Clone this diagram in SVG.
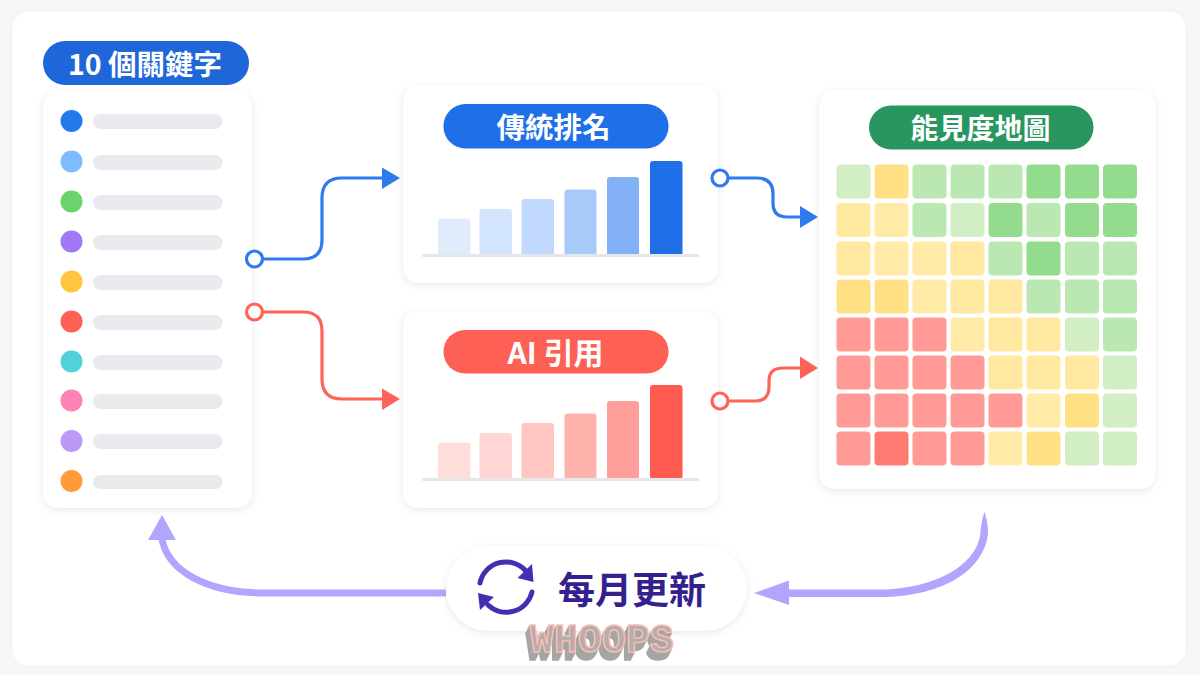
<svg xmlns="http://www.w3.org/2000/svg" width="1200" height="675" viewBox="0 0 1200 675">
<style>
text{font-family:"Noto Sans CJK TC","Noto Sans",sans-serif;font-weight:700;text-anchor:middle}
.card{fill:#fff;filter:url(#sh)}
.ln{fill:#e9e9ee}
.axis{fill:#e6e6eb}
.g1{fill:#d2eec4}.g2{fill:#bbe8b2}.g3{fill:#93dc8e}
.y1{fill:#ffeaa8}.y2{fill:#ffe9a0}.y3{fill:#ffe084}
.r1{fill:#ff9a96}.r2{fill:#ff7b72}
.blue{fill:none;stroke:#2f7bee;stroke-width:3.2}
.red{fill:none;stroke:#ff6257;stroke-width:3.2}
.ringb{fill:#fff;stroke:#2f7bee;stroke-width:3.2}
.ringr{fill:#fff;stroke:#ff6257;stroke-width:3.2}
.loop{fill:none;stroke:#b1a6fd;stroke-width:7}
.sync{fill:none;stroke:#432fb4;stroke-width:5;stroke-linecap:round}
</style>
<defs>
<filter id="sh" x="-10%" y="-10%" width="120%" height="120%"><feDropShadow dx="0" dy="2" stdDeviation="3.500" flood-color="#8a8aa0" flood-opacity="0.2"/></filter>
<filter id="sh2" x="-3%" y="-3%" width="106%" height="106%"><feDropShadow dx="0" dy="0" stdDeviation="3" flood-color="#8a8aa0" flood-opacity="0.1"/></filter>
<filter id="extrude" x="-10%" y="-20%" width="120%" height="150%" color-interpolation-filters="sRGB">
<feOffset in="SourceAlpha" dx="-1" dy="2" result="a"/>
<feOffset in="SourceAlpha" dx="-2" dy="4" result="b"/>
<feOffset in="SourceAlpha" dx="-3" dy="6" result="c"/>
<feOffset in="SourceAlpha" dx="-4" dy="8" result="d"/>
<feMerge result="m"><feMergeNode in="a"/><feMergeNode in="b"/><feMergeNode in="c"/><feMergeNode in="d"/></feMerge>
<feFlood flood-color="#a5a5a5"/><feComposite in2="m" operator="in" result="s"/>
<feMerge><feMergeNode in="s"/><feMergeNode in="SourceGraphic"/></feMerge>
</filter>
</defs>
<rect width="1200" height="675" fill="#f8f8f9"/>
<rect x="12.500" y="11.500" width="1173" height="654" rx="16" fill="#fff" filter="url(#sh2)"/>

<g id="keywords-label">
<rect x="43" y="41" width="206" height="44" rx="22" fill="#1f66d8"/>
<text x="145" y="74.500" font-size="28.500" fill="#fff">10 個關鍵字</text>
</g>

<g id="keywords-list">
<rect class="card" x="43" y="91" width="209" height="417" rx="15"/>
<circle cx="71.500" cy="121" r="11" fill="#2279ee"/><rect class="ln" x="93" y="114" width="129.500" height="15" rx="7.500"/>
<circle cx="71.500" cy="161.500" r="11" fill="#7cbcff"/><rect class="ln" x="93" y="155" width="129.500" height="15" rx="7.500"/>
<circle cx="71.500" cy="201.500" r="11" fill="#6bd26d"/><rect class="ln" x="93" y="195" width="129.500" height="15" rx="7.500"/>
<circle cx="71.500" cy="241.500" r="11" fill="#a278f5"/><rect class="ln" x="93" y="235" width="129.500" height="15" rx="7.500"/>
<circle cx="71.500" cy="281.500" r="11" fill="#ffc53d"/><rect class="ln" x="93" y="275" width="129.500" height="15" rx="7.500"/>
<circle cx="71.500" cy="321.500" r="11" fill="#ff5f55"/><rect class="ln" x="93" y="315" width="129.500" height="15" rx="7.500"/>
<circle cx="71.500" cy="361.500" r="11" fill="#50d2dc"/><rect class="ln" x="93" y="355" width="129.500" height="15" rx="7.500"/>
<circle cx="71.500" cy="400.500" r="11" fill="#ff82b5"/><rect class="ln" x="93" y="394" width="129.500" height="15" rx="7.500"/>
<circle cx="71.500" cy="441" r="11" fill="#bb99f7"/><rect class="ln" x="93" y="434" width="129.500" height="15" rx="7.500"/>
<circle cx="71.500" cy="481" r="11" fill="#ff9b38"/><rect class="ln" x="93" y="475" width="129.500" height="14" rx="7"/>
</g>

<g id="traditional-ranking">
<rect class="card" x="403" y="85" width="315" height="198" rx="15"/>
<rect x="443.500" y="104" width="225" height="44.500" rx="22" fill="#1f70e8"/>
<text x="553.500" y="138" font-size="28.500" fill="#fff">傳統排名</text>
<rect x="438" y="218.500" width="32.500" height="38" rx="3" fill="#e0ebfb"/>
<rect x="479.500" y="209" width="32.500" height="47.500" rx="3" fill="#d3e4fe"/>
<rect x="521.500" y="199" width="32.500" height="57.500" rx="3" fill="#c1d9fe"/>
<rect x="564.500" y="189.500" width="32" height="67" rx="3" fill="#a8caf9"/>
<rect x="607" y="177" width="32" height="79.500" rx="3" fill="#83b1f6"/>
<rect x="650" y="161" width="32.500" height="95.500" rx="3" fill="#1f70e8"/>
<rect x="422" y="254" width="277" height="3" rx="1.500" class="axis"/>
</g>

<g id="ai-citation">
<rect class="card" x="403" y="311" width="315" height="197" rx="15"/>
<rect x="443.500" y="330" width="225" height="43.500" rx="21.500" fill="#ff6055"/>
<text x="555.500" y="363.500" font-size="30" fill="#fff">AI 引用</text>
<rect x="438" y="442.500" width="32.500" height="37" rx="3" fill="#ffdeda"/>
<rect x="479.500" y="433" width="32.500" height="46.500" rx="3" fill="#ffd6d3"/>
<rect x="521.500" y="423" width="32.500" height="56.500" rx="3" fill="#ffc6c2"/>
<rect x="564.500" y="413.500" width="32" height="66" rx="3" fill="#ffb1ac"/>
<rect x="607" y="401" width="32" height="78.500" rx="3" fill="#ff9f99"/>
<rect x="650" y="385" width="32.500" height="94.500" rx="3" fill="#ff5b50"/>
<rect x="422" y="478" width="277" height="3" rx="1.500" class="axis"/>
</g>

<g id="visibility-map">
<rect class="card" x="819" y="90" width="336.500" height="399" rx="15"/>
<rect x="869" y="105.500" width="224.500" height="44" rx="22" fill="#29955f"/>
<text x="980.500" y="139" font-size="28" fill="#fff">能見度地圖</text>
<rect class="g1" x="836.500" y="164.500" width="34" height="34" rx="4"/><rect class="y3" x="874.500" y="164.500" width="34" height="34" rx="4"/><rect class="g2" x="912.500" y="164.500" width="34" height="34" rx="4"/><rect class="g2" x="950.500" y="164.500" width="34" height="34" rx="4"/><rect class="g2" x="988.500" y="164.500" width="34" height="34" rx="4"/><rect class="g3" x="1026.500" y="164.500" width="34" height="34" rx="4"/><rect class="g3" x="1065" y="164.500" width="34" height="34" rx="4"/><rect class="g3" x="1103" y="164.500" width="34" height="34" rx="4"/>
<rect class="y2" x="836.500" y="203" width="34" height="34" rx="4"/><rect class="y1" x="874.500" y="203" width="34" height="34" rx="4"/><rect class="g2" x="912.500" y="203" width="34" height="34" rx="4"/><rect class="g1" x="950.500" y="203" width="34" height="34" rx="4"/><rect class="g3" x="988.500" y="203" width="34" height="34" rx="4"/><rect class="g2" x="1026.500" y="203" width="34" height="34" rx="4"/><rect class="g3" x="1065" y="203" width="34" height="34" rx="4"/><rect class="g3" x="1103" y="203" width="34" height="34" rx="4"/>
<rect class="y2" x="836.500" y="241.500" width="34" height="34" rx="4"/><rect class="y1" x="874.500" y="241.500" width="34" height="34" rx="4"/><rect class="y1" x="912.500" y="241.500" width="34" height="34" rx="4"/><rect class="y2" x="950.500" y="241.500" width="34" height="34" rx="4"/><rect class="g2" x="988.500" y="241.500" width="34" height="34" rx="4"/><rect class="g3" x="1026.500" y="241.500" width="34" height="34" rx="4"/><rect class="g2" x="1065" y="241.500" width="34" height="34" rx="4"/><rect class="g2" x="1103" y="241.500" width="34" height="34" rx="4"/>
<rect class="y3" x="836.500" y="279.500" width="34" height="34" rx="4"/><rect class="y3" x="874.500" y="279.500" width="34" height="34" rx="4"/><rect class="y1" x="912.500" y="279.500" width="34" height="34" rx="4"/><rect class="y2" x="950.500" y="279.500" width="34" height="34" rx="4"/><rect class="y2" x="988.500" y="279.500" width="34" height="34" rx="4"/><rect class="g2" x="1026.500" y="279.500" width="34" height="34" rx="4"/><rect class="g2" x="1065" y="279.500" width="34" height="34" rx="4"/><rect class="g2" x="1103" y="279.500" width="34" height="34" rx="4"/>
<rect class="r1" x="836.500" y="317.500" width="34" height="34" rx="4"/><rect class="r1" x="874.500" y="317.500" width="34" height="34" rx="4"/><rect class="r1" x="912.500" y="317.500" width="34" height="34" rx="4"/><rect class="y1" x="950.500" y="317.500" width="34" height="34" rx="4"/><rect class="y2" x="988.500" y="317.500" width="34" height="34" rx="4"/><rect class="y2" x="1026.500" y="317.500" width="34" height="34" rx="4"/><rect class="g1" x="1065" y="317.500" width="34" height="34" rx="4"/><rect class="g2" x="1103" y="317.500" width="34" height="34" rx="4"/>
<rect class="r1" x="836.500" y="355.500" width="34" height="34" rx="4"/><rect class="r1" x="874.500" y="355.500" width="34" height="34" rx="4"/><rect class="r1" x="912.500" y="355.500" width="34" height="34" rx="4"/><rect class="r1" x="950.500" y="355.500" width="34" height="34" rx="4"/><rect class="y2" x="988.500" y="355.500" width="34" height="34" rx="4"/><rect class="y2" x="1026.500" y="355.500" width="34" height="34" rx="4"/><rect class="y2" x="1065" y="355.500" width="34" height="34" rx="4"/><rect class="g1" x="1103" y="355.500" width="34" height="34" rx="4"/>
<rect class="r1" x="836.500" y="393.500" width="34" height="34" rx="4"/><rect class="r1" x="874.500" y="393.500" width="34" height="34" rx="4"/><rect class="r1" x="912.500" y="393.500" width="34" height="34" rx="4"/><rect class="r1" x="950.500" y="393.500" width="34" height="34" rx="4"/><rect class="r1" x="988.500" y="393.500" width="34" height="34" rx="4"/><rect class="y1" x="1026.500" y="393.500" width="34" height="34" rx="4"/><rect class="y3" x="1065" y="393.500" width="34" height="34" rx="4"/><rect class="g1" x="1103" y="393.500" width="34" height="34" rx="4"/>
<rect class="r1" x="836.500" y="431.500" width="34" height="34" rx="4"/><rect class="r2" x="874.500" y="431.500" width="34" height="34" rx="4"/><rect class="r1" x="912.500" y="431.500" width="34" height="34" rx="4"/><rect class="r1" x="950.500" y="431.500" width="34" height="34" rx="4"/><rect class="y1" x="988.500" y="431.500" width="34" height="34" rx="4"/><rect class="y3" x="1026.500" y="431.500" width="34" height="34" rx="4"/><rect class="g1" x="1065" y="431.500" width="34" height="34" rx="4"/><rect class="g1" x="1103" y="431.500" width="34" height="34" rx="4"/>
</g>

<g id="connectors">
<path class="blue" d="M255 259H303Q322 259 322 240V198Q322 178 342 178H385"/>
<path d="M382 167.500L400 178L382 189Z" fill="#2f7bee"/>
<path class="red" d="M255 312H303Q322 312 322 331V379Q322 399 342 399H385"/>
<path d="M382 388.500L400 399L382 410Z" fill="#ff6257"/>
<path class="blue" d="M720 178H757Q773 178 773 194V203Q773 217 787 217H802"/>
<path d="M800 206L818 217L800 228Z" fill="#2f7bee"/>
<path class="red" d="M720 401H755Q769 401 769 387V381Q769 368 783 368H802"/>
<path d="M800 356.500L818 368L800 379Z" fill="#ff6257"/>
<path d="M984.500 512C986 516 988 524 988 532C986 568 945 597 880 597H788V589.500H880C935 589 978 565 980.500 532C981 524 983 516 984.500 512Z" fill="#b1a6fd"/>
<path d="M754 593L789 580.500V605Z" fill="#b1a6fd"/>
<path class="loop" d="M446 593H265C208 593 167 572 161.500 537"/>
<path d="M162 515L176 540H148Z" fill="#b1a6fd"/>
<circle class="ringb" cx="254.500" cy="259" r="8"/>
<circle class="ringr" cx="254.500" cy="312" r="8"/>
<circle class="ringb" cx="720" cy="178" r="8"/>
<circle class="ringr" cx="720" cy="401" r="8"/>
</g>

<g id="monthly-update">
<rect class="card" x="446" y="546" width="301" height="85" rx="42.500"/>
<path class="sync" d="M480 583A26.500 26.500 0 0 1 525 570"/>
<path d="M532 564L533.500 582L517.500 578Z" fill="#432fb4"/>
<path class="sync" d="M532 592A26.500 26.500 0 0 1 488 605"/>
<path d="M478 593L480 610L494 597Z" fill="#432fb4"/>
<text x="632" y="604" font-size="37" fill="#35218e">每月更新</text>
</g>

<g id="whoops">
<text x="602" y="652" textLength="144" lengthAdjust="spacingAndGlyphs" filter="url(#extrude)" style="font-family:'Liberation Mono',monospace;font-size:40px" fill="#b4aeae" stroke="#ffbdb2" stroke-width="1.500">WHOOPS</text>
</g>
</svg>
